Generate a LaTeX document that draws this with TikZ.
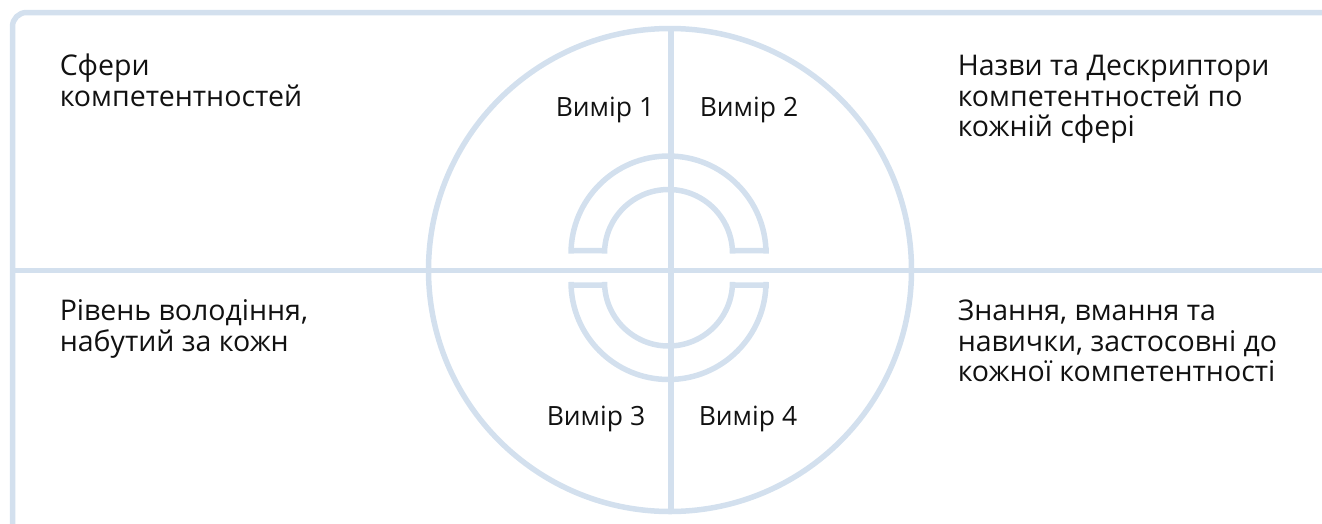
\documentclass[tikz,border=0pt]{standalone}
\usepackage{fontspec}
\setmainfont{Open Sans}
\usepackage{xcolor}
\definecolor{lineblue}{HTML}{D3E0EE}
\definecolor{inkblack}{HTML}{111111}
\tikzset{every node/.append style={font=\fontsize{28.5}{30.5}\selectfont, text=inkblack, inner sep=0pt}}
\tikzset{dimlabel/.style={font=\fontsize{26.5}{30}\selectfont}}

\begin{document}
\begin{tikzpicture}[x=1pt, y=-1pt, line width=5.5pt]
    \useasboundingbox (0,0) rectangle (1322,523);
    \coordinate (c) at (670,270);
    \begin{scope}
        \clip (0,0) rectangle (1322,523);
        % frame and cross
        \draw[lineblue, rounded corners=14] (12.5,560) -- (12.5,12.5) -- (1360,12.5);
        \draw[lineblue] (12.5,270.5) -- (1360,270.5);
        \draw[lineblue] (c) circle[radius=241.5];
        \draw[lineblue] (671,28) -- (671,514);
        % inner half rings
        \draw[lineblue, line join=miter] (571,250.5) -- (571,253.5) arc[start angle=180, end angle=360, radius=97.5]
            -- (766,250.5) -- (732.5,250.5) -- (732.5,253.5) arc[start angle=360, end angle=180, radius=64]
            -- (604.5,250.5) -- cycle;
        \draw[lineblue, line join=miter] (571,285) -- (571,282) arc[start angle=180, end angle=0, radius=97.5]
            -- (766,285) -- (732.5,285) -- (732.5,282) arc[start angle=0, end angle=180, radius=64]
            -- (604.5,285) -- cycle;
    \end{scope}
    % quadrant texts (base = last line)
    \node[anchor=base west, align=left] (spheres) at (57,106) {Сфери\\компетентностей};
    \node[anchor=base west, align=left] (names) at (955,136.5) {Назви та Дескриптори\\компетентностей по\\кожній сфері};
    \node[anchor=base west, align=left] (level) at (57,351) {Рівень володіння,\\набутий за кожн};
    \node[anchor=base west, align=left] (skills) at (955,381.5) {Знання, вмання та\\навички, застосовні до\\кожної компетентності};
    % dimensions
    \node[dimlabel, anchor=base west] (dim1) at (553,116) {Вимір 1};
    \node[dimlabel, anchor=base west] (dim2) at (697,116) {Вимір 2};
    \node[dimlabel, anchor=base west] (dim3) at (544,425) {Вимір 3};
    \node[dimlabel, anchor=base west] (dim4) at (696,425) {Вимір 4};
\end{tikzpicture}
\end{document}
